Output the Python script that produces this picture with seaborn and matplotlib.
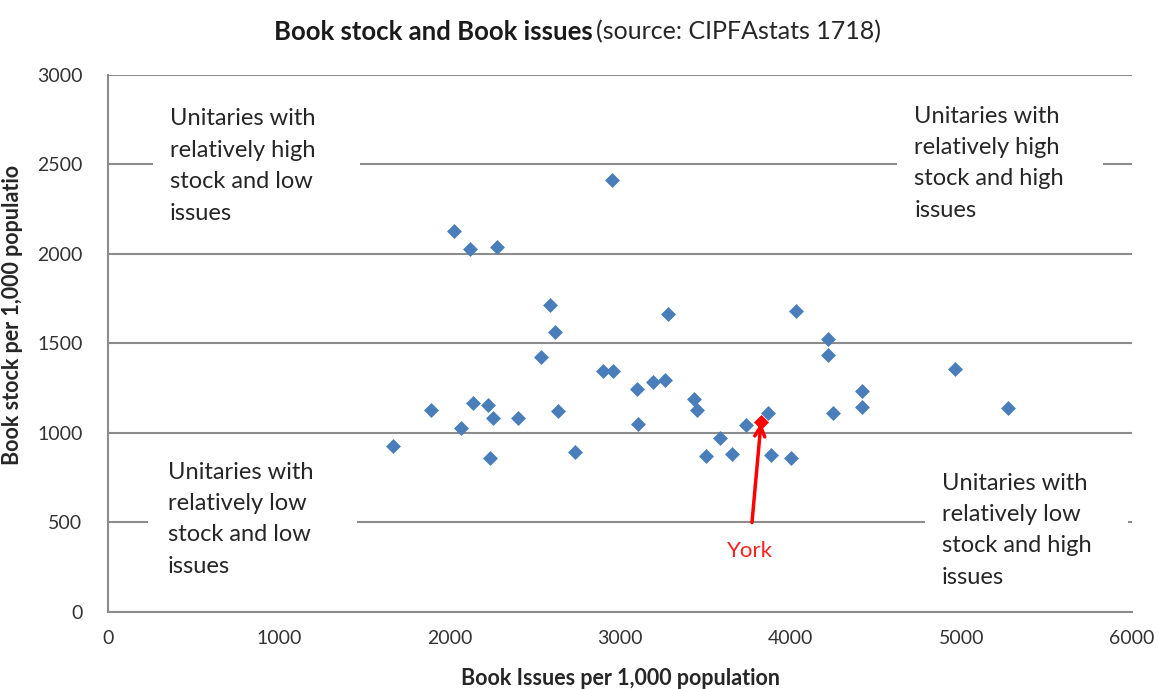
import matplotlib
matplotlib.use("Agg")
import matplotlib.pyplot as plt
import seaborn as sns
from matplotlib.patches import Rectangle

# ---- data ----
issues = [1672, 1893, 2029, 2068, 2123, 2141, 2229, 2238, 2258, 2277,
          2402, 2535, 2590, 2619, 2639, 2736, 2898, 2951, 2961, 3098,
          3107, 3191, 3264, 3283, 3434, 3449, 3504, 3584, 3654, 3740,
          3865, 3884, 4000, 4031, 4217, 4217, 4250, 4416, 4416, 4961, 5275]
stock = [929, 1128, 2130, 1030, 2026, 1166, 1156, 862, 1082, 2037,
         1082, 1423, 1713, 1564, 1120, 892, 1346, 2413, 1346, 1246,
         1050, 1287, 1296, 1663, 1188, 1128, 873, 970, 883, 1042,
         1114, 877, 862, 1682, 1525, 1436, 1110, 1235, 1147, 1356, 1138]
york_issues = [3826]
york_stock = [1063]

x_ticks = [0, 1000, 2000, 3000, 4000, 5000, 6000]
y_ticks = [0, 500, 1000, 1500, 2000, 2500, 3000]

quadrant_texts = [
    "Unitaries with\nrelatively high\nstock and low\nissues",
    "Unitaries with\nrelatively high\nstock and high\nissues",
    "Unitaries with\nrelatively low\nstock and low\nissues",
    "Unitaries with\nrelatively low\nstock and high\nissues",
]

FONT = "Lato"
GRID = "#8c8c8c"
BLUE = "#4A7EBB"

sns.set_style("white")
plt.rcParams["font.family"] = [FONT, "DejaVu Sans"]

fig = plt.figure(figsize=(11.58, 6.89), dpi=100)
ax = fig.add_axes([0.0933, 0.1118, 0.8843, 0.7794])

ax.set_xlim(0, 6000)
ax.set_ylim(0, 3000)
ax.set_xticks(x_ticks)
ax.set_yticks(y_ticks)
ax.set_axisbelow(True)
ax.yaxis.grid(True, color=GRID, linewidth=1.5)
ax.xaxis.grid(False)
for side in ["top", "right"]:
    ax.spines[side].set_visible(False)
for side in ["left", "bottom"]:
    ax.spines[side].set_color(GRID)
    ax.spines[side].set_linewidth(1.5)
ax.tick_params(axis="both", colors=GRID, width=1.2,
               labelsize=14, labelcolor="#333333")
ax.tick_params(axis="x", direction="out", length=5, pad=8)
ax.tick_params(axis="y", direction="inout", length=9, pad=14)

# white boxes behind quadrant text (hide gridlines like the original)
boxes = [(264, 2150, 1213, 800), (4623, 2150, 1207, 800),
         (234, 150, 1225, 720), (4787, 100, 1190, 770)]
for (bx, by, bw, bh) in boxes:
    ax.add_patch(Rectangle((bx, by), bw, bh, facecolor="white",
                           edgecolor="none", zorder=1))

text_pos = [(363, 2813), (4725, 2828), (352, 840), (4884, 779)]
for (tx, ty), t in zip(text_pos, quadrant_texts):
    ax.text(tx, ty, t, ha="left", va="top", fontsize=17, color="#262626",
            linespacing=1.61, zorder=2)

sns.scatterplot(x=issues, y=stock, marker="D", s=58, color=BLUE,
                linewidth=0, ax=ax, zorder=3, legend=False)
sns.scatterplot(x=york_issues, y=york_stock, marker="D", s=58, color="red",
                linewidth=0, ax=ax, zorder=4, legend=False)

ax.annotate("", xy=(york_issues[0], york_stock[0] - 5), xytext=(3773, 500),
            arrowprops=dict(arrowstyle="->", color="red", lw=2.5,
                            mutation_scale=18, shrinkA=0, shrinkB=0),
            zorder=5)
ax.text(3762, 340, "York", ha="center", va="center", fontsize=16,
        color="#ff2020", zorder=5)

ax.set_xlabel("Book Issues per 1,000 population", fontsize=15.5,
              fontweight="bold", color="#262626")
ax.set_ylabel("Book stock per 1,000 populatio", fontsize=15.5,
              fontweight="bold", color="#262626")
ax.xaxis.set_label_coords(0.5, -0.105)
ax.yaxis.set_label_coords(-0.083, 0.553)

fig.text(0.512, 0.9536, "Book stock and Book issues", ha="right", va="center",
         fontsize=18.5, fontweight="bold", color="#1a1a1a")
fig.text(0.515, 0.9536, "(source: CIPFAstats 1718)", ha="left", va="center",
         fontsize=18, color="#262626")

fig.savefig("out.png", dpi=100)
